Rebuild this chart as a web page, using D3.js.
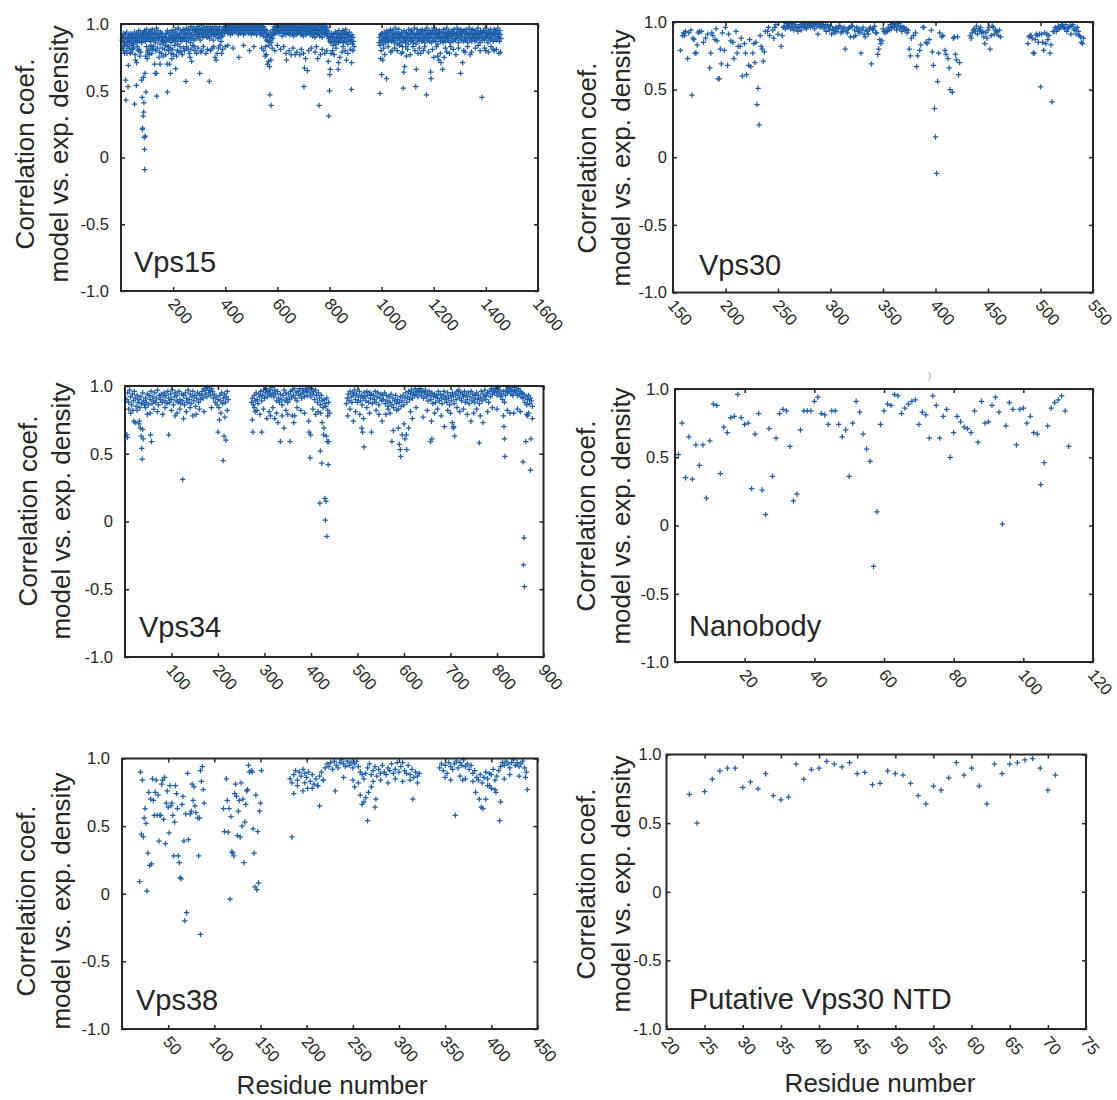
<!DOCTYPE html>
<html>
<head>
<meta charset="utf-8">
<script src="https://cdn.jsdelivr.net/npm/d3@7"></script>
<style>
  body { margin: 0; background: #fff; }
  text { font-family: "Liberation Sans", Arial, Helvetica, sans-serif; }
</style>
</head>
<body>
<div id="chart"></div>
<script>
// panel names, in reading order
const panelNames = ["Vps15", "Vps30", "Vps34", "Nanobody", "Vps38", "Putative Vps30 NTD"];
const yTicks = [-1, -0.5, 0, 0.5, 1];
const yTitle = ["Correlation coef.", "model vs. exp. density"];
const xTitle = "Residue number";

// x ticks per panel
const vps15Ticks = [200, 400, 600, 800, 1000, 1200, 1400, 1600];
const vps30Ticks = [150, 200, 250, 300, 350, 400, 450, 500, 550];
const vps34Ticks = [100, 200, 300, 400, 500, 600, 700, 800, 900];
const nanoTicks = [20, 40, 60, 80, 100, 120];
const vps38Ticks = [50, 100, 150, 200, 250, 300, 350, 400, 450];
const ntdTicks = [20, 25, 30, 35, 40, 45, 50, 55, 60, 65, 70, 75];

// ---- Vps15: dense band (hundredths, every 2nd residue) + fringe + low points ----
const vps15BandA = [ // residues 4..894
88,91,86,93,89,84,92,90,87,94,85,89,92,88,91,86,90,93,87,89,
92,88,85,90,94,87,91,89,93,86,88,92,95,90,87,91,94,89,86,92,
90,93,88,95,91,87,93,96,89,92,90,94,88,91,95,87,93,90,96,89,
92,88,94,90,86,93,97,89,91,95,88,92,90,85,94,91,89,93,87,90,
86,91,88,84,93,90,87,95,89,83,92,88,94,90,86,91,95,88,92,89,
94,90,87,96,91,88,93,85,97,90,92,89,95,87,91,94,88,96,90,93,
89,95,92,87,97,91,94,88,96,90,93,86,98,92,89,95,91,97,88,94,
92,96,89,94,98,91,93,97,90,95,88,96,92,99,94,90,97,93,95,91,
96,93,98,90,94,97,92,95,89,98,94,91,96,93,97,88,95,92,98,94,
91,97,93,95,89,96,92,98,94,90,87,93,96,91,95,97,93,98,94,96,
98,95,97,93,99,96,94,98,92,97,95,99,93,96,98,94,97,95,99,96,
94,98,96,92,99,95,97,93,98,96,94,99,97,92,95,98,96,93,99,97,
95,98,93,97,96,99,94,97,92,98,96,95,99,93,97,94,98,96,92,97,
99,95,97,94,98,92,96,99,93,97,95,91,98,94,96,90,93,88,95,91,
87,92,84,90,88,94,86,91,93,89,96,92,98,95,97,93,99,96,94,98,
97,93,99,95,98,94,97,91,96,99,93,97,95,98,92,96,94,99,97,93,
98,95,92,97,94,99,96,93,98,91,95,97,94,99,92,96,98,93,97,95,
94,98,96,92,97,93,99,95,91,97,94,98,96,92,95,99,93,97,94,96,
98,92,96,94,99,91,95,97,93,98,90,96,94,92,97,95,99,93,96,91,
95,98,93,96,90,97,94,99,92,96,95,98,93,97,91,95,89,93,90,87,
91,86,93,88,90,84,92,89,87,94,85,90,93,88,91,86,95,89,92,87,
93,90,88,95,91,86,94,89,92,96,87,93,90,85,92,88,94,91,87,90,
88,92,85,90,87,83];
const vps15BandB = [ // residues 990..1458
86,90,84,92,88,93,87,91,85,89,94,88,92,86,90,95,89,93,87,91,
94,88,96,91,87,93,89,95,90,86,92,97,88,94,91,85,93,89,96,90,
88,92,86,94,90,83,91,87,95,89,93,86,90,94,88,92,85,96,89,91,
93,87,95,90,88,94,86,92,97,89,91,85,93,96,88,90,94,87,92,95,
89,93,87,96,91,88,94,90,86,95,92,89,97,93,88,91,95,87,90,94,
92,86,95,89,93,97,88,91,94,87,96,90,92,85,93,89,95,91,87,94,
90,88,93,86,96,91,89,94,87,92,97,90,93,88,95,91,86,94,92,89,
95,91,87,93,96,89,92,88,94,90,97,93,86,91,95,89,92,96,88,93,
91,94,87,95,90,88,93,96,89,92,86,94,91,97,88,93,90,95,87,92,
96,89,93,91,87,95,92,88,94,90,97,93,89,92,86,95,91,94,88,93,
90,95,88,93,97,91,89,94,92,86,95,90,93,88,96,92,89,94,91,87,
93,96,89,92,95,88,94,91,97,90,93,87,95,92,89];
const vps15Fringe = [
[6,.82],[12,.84],[20,.80],[26,.83],[38,.79],[42,.84],[48,.82],[54,.77],[62,.83],[70,.81],[98,.83],[102,.79],[114,.84],[120,.81],
[125,.83],[133,.80],[140,.82],[148,.79],[158,.82],[162,.76],[168,.81],[172,.77],[181,.83],[188,.82],[198,.81],[202,.77],[206,.84],
[216,.80],[226,.83],[230,.79],[244,.80],[252,.83],[262,.78],[268,.81],[276,.84],[284,.80],[295,.82],[306,.79],[316,.83],[332,.81],
[344,.80],[356,.83],[374,.82],[386,.78],[400,.83],[410,.84],[430,.82],[470,.84],[510,.83],[540,.82],[548,.80],[580,.82],[590,.80],
[600,.84],[612,.81],[624,.83],[645,.80],[660,.82],[675,.79],[692,.81],[720,.80],[730,.82],[745,.79],[750,.83],[772,.81],[782,.78],
[812,.80],[818,.77],[825,.82],[848,.79],[852,.83],[870,.78],[890,.80],
[998,.80],[1008,.82],[1012,.77],[1025,.83],[1035,.79],[1050,.82],[1060,.80],[1068,.84],[1080,.79],[1092,.83],[1100,.81],[1110,.77],
[1120,.83],[1128,.80],[1145,.82],[1150,.78],[1165,.83],[1180,.79],[1195,.81],[1210,.83],[1215,.76],[1225,.78],[1245,.82],[1250,.79],
[1265,.83],[1275,.81],[1285,.77],[1295,.82],[1315,.80],[1330,.83],[1345,.79],[1360,.82],[1370,.84],[1378,.80],[1395,.82],[1410,.79],
[1420,.83],[1440,.81],[1450,.78]];
const vps15Low = [
[10,.80],[14,.78],[18,.58],[19,.43],[23,.78],[27,.53],[28,.69],[32,.82],[36,.78],[44,.81],[52,.40],[56,.73],[59,.54],[60,.71],
[66,.80],[72,.76],[76,.79],[79,.58],[81,.45],[82,.21],[83,.22],[85,.31],[86,.60],[87,.34],[88,.41],[89,.15],[90,.06],[91,-.09],
[92,.63],[93,.16],[95,.76],[96,.49],[100,.74],[104,.80],[108,.77],[112,.82],[118,.78],[129,.70],[131,.63],[136,.63],[137,.46],
[146,.75],[150,.70],[155,.78],[177,.70],[178,.49],[183,.80],[186,.70],[190,.63],[192,.78],[195,.74],[210,.665],[213,.76],[222,.79],
[235,.77],[240,.82],[249,.57],[258,.81],[265,.75],[271,.72],[280,.83],[290,.78],[302,.63],[310,.80],[326,.78],[339,.57],[350,.82],
[361,.75],[365,.73],[369,.78],[380,.84],[390,.81],[452,.75],[493,.80],[553,.76],[555,.83],[558,.77],[562,.70],[566,.72],[570,.68],
[571,.47],[575,.73],[576,.39],[633,.78],[635,.73],[653,.77],[668,.77],[686,.77],[700,.78],[702,.53],[704,.67],[708,.74],[715,.65],
[755,.74],[760,.39],[765,.77],[790,.80],[795,.72],[797,.31],[800,.50],[801,.62],[803,.66],[806,.78],[833,.66],[835,.71],[840,.75],
[860,.80],[865,.73],[880,.81],[884,.51],[885,.71],
[994,.48],[996,.74],[1000,.62],[1004,.73],[1019,.59],[1040,.80],[1075,.78],[1083,.52],[1085,.64],[1088,.68],[1095,.76],[1131,.53],
[1133,.66],[1140,.78],[1160,.80],[1172,.47],[1188,.64],[1190,.59],[1200,.75],[1220,.73],[1228,.71],[1234,.66],[1240,.75],[1260,.78],
[1303,.63],[1311,.71],[1320,.79],[1340,.77],[1385,.45],[1400,.80],[1428,.81],[1432,.80],[1456,.79]];

// ---- Vps30 ----
const vps30Pts = [
[157,.79],[159,.90],[160,.92],[161,.90],[162,.93],[164,.73],[165,.92],[167,.94],[168,.46],[169,.88],[170,.87],[171,.77],[172,.77],
[173,.83],[174,.92],[175,.93],[177,.93],[179,.85],[181,.88],[183,.91],[185,.66],[186,.77],[187,.92],[188,.90],[190,.87],[191,.95],
[192,.86],[193,.58],[194,.58],[195,.80],[196,.69],[197,.92],[199,.79],[200,.96],[202,.68],[203,.91],[205,.86],[207,.85],[208,.73],
[210,.93],[211,.77],[212,.82],[214,.82],[215,.88],[216,.60],[218,.84],[219,.77],[220,.61],[222,.68],[223,.87],[224,.67],[226,.77],
[227,.84],[228,.70],[229,.85],[230,.39],[231,.51],[232,.24],[233,.90],[234,.82],[235,.80],[236,.71],[237,.78],[238,.93],[240,.93],
[241,.96],[242,.90],[245,.94],[246,.88],[247,.96],[248,.98],[250,.91],[253,.82],[254,.90],[255,.96],
[376,.75],[377,.88],[379,.90],[381,.92],[382,.67],[383,.75],[385,.79],[386,.83],[388,.96],[389,.96],[391,.85],[392,.84],[394,.87],
[396,.94],[397,.78],[398,.68],[399,.36],[400,.15],[401,-.12],[402,.56],[403,.77],[404,.92],[406,.89],[407,.90],[409,.79],[410,.76],
[412,.73],[413,.66],[414,.50],[416,.48],[417,.88],[418,.89],[419,.76],[420,.72],[421,.89],[422,.61],[423,.70]];
const vps30BandA = [ // residues 256..375
97,95,99,96,98,97,95,99,96,94,98,97,95,93,96,98,94,97,99,96,
98,95,97,99,98,96,99,97,98,95,99,97,91,98,96,99,97,98,95,97,
93,98,96,94,97,91,95,94,92,96,93,95,97,97,92,95,93,96,80,94,
92,95,96,89,97,97,89,94,90,96,93,95,92,77,94,96,91,89,94,93,
91,95,96,69,94,95,97,92,92,76,80,87,84,86,95,93,92,94,93,96,
94,98,95,97,99,96,98,94,97,99,95,97,93,96,96,94,95,92,94,80];
const vps30BandB = [ // residues 433..462
90,88,92,94,95,93,97,91,95,94,96,92,93,89,84,92,88,94,96,80,90,97,96,91,94,93,93,90,94,89];
const vps30BandC = [ // residues 488..541
84,89,90,90,88,77,77,87,91,90,85,91,52,91,85,79,92,84,91,87,90,77,83,41,93,93,96,93,95,97,
95,96,98,98,96,95,98,93,95,96,97,91,97,98,94,95,91,96,93,90,89,85,84,88];

// ---- Vps34 ----
const vps34BandA = [ // residues 4..222
90,95,88,97,92,86,94,89,96,91,85,93,88,90,84,92,87,95,89,86,
91,88,94,86,93,90,96,87,92,89,95,88,91,97,86,93,90,94,88,92,
95,89,93,87,96,91,88,94,90,97,86,92,95,89,93,88,96,90,87,94,
89,93,86,95,91,88,97,90,94,87,92,96,89,93,85,91,95,88,94,90,
93,96,91,98,94,97,92,99,95,97,93,98,96,91,94,88,92,86,90,84,
93,89,95,87,91,94,88,92,96,90];
const vps34BandB = [ // residues 272..440
88,91,86,93,89,95,90,87,94,92,96,89,93,97,91,95,98,92,96,94,
97,93,99,95,92,97,94,89,96,91,88,94,90,86,93,97,89,95,91,88,
94,90,96,92,97,93,98,91,95,89,96,93,98,94,91,97,95,92,98,96,
93,97,99,95,92,98,94,96,90,97,93,88,95,91,86,93,89,84,90,87,
85,91,82,88,80];
const vps34BandC = [ // residues 476..876
87,91,94,89,96,92,88,95,93,97,90,94,88,92,96,89,93,86,91,95,
92,89,96,93,88,95,91,94,87,93,90,96,88,92,95,86,91,94,89,93,
90,95,87,93,89,85,92,88,94,86,91,84,89,93,87,90,83,88,92,85,
89,93,86,91,95,88,92,96,90,94,97,91,95,93,98,94,96,92,97,95,
98,93,96,91,95,97,92,94,89,96,93,90,95,87,92,94,88,93,91,96,
89,94,91,87,93,96,90,92,88,95,91,86,93,89,95,92,87,94,90,96,
93,97,91,95,89,94,92,96,88,93,90,95,87,92,96,89,94,91,88,93,
95,90,93,87,91,96,89,94,92,97,90,93,95,88,96,92,98,94,97,95,
98,96,93,99,95,97,92,94,90,96,88,93,97,95,99,96,98,94,97,93,
96,99,95,97,93,98,94,96,92,95,91,94,88,92,86,90,93,87,91,89,
85];
const vps34Fringe = [
[8,.83],[12,.80],[26,.82],[44,.84],[48,.79],[62,.83],[70,.81],[86,.84],[100,.82],[112,.80],[118,.83],[132,.81],[140,.84],[146,.78],
[160,.83],[170,.81],[186,.84],[206,.80],[220,.82],
[278,.84],[284,.82],[290,.79],[298,.83],[310,.81],[318,.84],[326,.80],[346,.82],[350,.79],[370,.84],[378,.82],[386,.80],[404,.83],
[410,.79],
[484,.83],[496,.81],[520,.84],[526,.80],[540,.82],[546,.79],[566,.83],[570,.80],[584,.82],[614,.81],[626,.84],[650,.82],[666,.80],
[672,.83],[680,.78],[694,.82],[700,.80],[714,.84],[720,.81],[728,.83],[750,.80],[756,.83],[780,.81],[790,.84],[800,.83],[822,.82],
[828,.80],[844,.83],[850,.81],[868,.80]];
const vps34Low = [
[4,.64],[5,.62],[17,.82],[19,.74],[22,.73],[30,.72],[31,.74],[33,.69],[35,.63],[36,.54],[37,.46],[38,.68],[39,.61],[54,.80],
[55,.64],[57,.59],[81,.79],[94,.64],[108,.78],[124,.31],[126,.76],[153,.79],[200,.66],[203,.75],[211,.45],[213,.63],[215,.77],
[217,.60],[274,.75],[275,.66],[280,.81],[294,.66],[305,.76],[313,.78],[322,.76],[329,.73],[334,.59],[338,.78],[342,.69],[355,.59],
[360,.78],[363,.73],[365,.78],[395,.74],[396,.66],[398,.47],[399,.64],[415,.81],[419,.135],[420,.52],[421,.80],[423,.43],[424,.73],
[427,.64],[428,.69],[430,.17],[431,.01],[432,.15],[433,.63],[434,-.11],[435,.59],[436,.78],[437,.42],[438,.59],
[479,.78],[491,.74],[505,.79],[509,.69],[511,.66],[513,.76],[514,.55],[530,.66],[553,.74],[561,.79],[574,.59],[577,.67],[588,.69],
[590,.57],[592,.53],[593,.48],[596,.64],[600,.72],[602,.61],[605,.64],[606,.53],[610,.69],[618,.76],[641,.77],[657,.59],[659,.74],
[660,.61],[687,.70],[704,.73],[706,.69],[707,.70],[709,.63],[736,.79],[744,.74],[762,.58],[764,.78],[770,.73],[814,.78],[815,.70],
[816,.61],[817,.48],[836,.80],[856,.44],[857,-.32],[858,-.12],[859,-.48],[862,.59],[864,.79],[866,.78],[872,.38],[873,.61],[876,.76]];

// ---- Nanobody, residues 1..113 ----
const nanoVals = [
52,75,35,65,34,59,44,59,20,62, 89,88,38,72,68,79,80,96,79,74,
75,27,67,82,26,8,71,36,64,82, 85,84,58,18,23,70,84,84,84,91,
94,82,81,74,84,84,74,65,70,36, 75,91,83,67,56,47,-30,10,74,84,
89,88,96,95,82,86,89,91,92,74, 83,81,64,95,88,64,80,85,50,68,
80,76,72,71,68,84,61,91,75,76, 88,94,83,1,73,90,85,59,85,86,
75,80,68,67,30,46,73,86,90,92, 95,84,58];

// ---- Vps38 ----
const vps38Pts = [
[19,.09],[20,.90],[21,.44],[22,.84],[23,.42],[24,.56],[25,.63],[26,.52],[27,.02],[28,.30],[29,.75],[30,.21],[31,.70],[32,.22],
[33,.85],[34,.69],[35,.58],[36,.75],[37,.84],[38,.58],[39,.73],[40,.39],[41,.58],[42,.58],[43,.81],[44,.84],[45,.55],[46,.86],
[47,.37],[48,.67],[49,.76],[50,.64],[51,.45],[52,.80],[53,.65],[54,.67],[55,.58],[56,.28],[57,.53],[58,.80],[59,.74],[60,.63],
[61,.28],[62,.23],[63,.12],[64,.11],[65,.66],[66,.72],[67,.39],[68,-.20],[69,.59],[70,-.14],[71,.89],[72,.40],[74,.59],[75,.61],
[76,.81],[77,.69],[78,.79],[79,.65],[80,.60],[82,.56],[83,.28],[84,.56],[85,.91],[85,-.30],[86,.83],[87,.94],[88,.77],[89,.67],
[110,.63],[111,.46],[113,.85],[114,.69],[115,.455],[116,.63],[117,-.04],[118,.57],[119,.31],[120,.30],[121,.28],[122,.74],[123,.81],
[124,.72],[125,.43],[126,.61],[127,.69],[128,.42],[129,.82],[130,.50],[131,.70],[132,.23],[133,.53],[134,.66],[135,.76],[136,.77],
[137,.95],[138,.90],[140,.91],[141,.90],[142,.48],[143,.30],[144,.05],[145,.73],[146,.03],[147,.46],[148,.08],[149,.61],[150,.67],
[151,.91],
[184,.42],[186,.74],[196,.76],[201,.78],[214,.65],[231,.76],[252,.79],[258,.73],[260,.66],[262,.68],[264,.71],[266,.54],[267,.75],
[270,.79],[274,.64],[275,.70],[315,.70],[361,.58],[369,.84],[383,.75],[387,.70],[389,.64],[391,.63],[394,.70],[398,.89],[404,.77],
[405,.75],[409,.54],[410,.68],[437,.86],[439,.77],
[190,.80],[198,.82],[206,.78],[212,.80],[218,.84],[240,.86],[250,.84],[256,.82],[272,.83],[280,.84],[288,.82],[296,.85],[304,.83],
[312,.84],[320,.82],[350,.86],[356,.84],[366,.87],[372,.85],[380,.83],[396,.80],[400,.78],[414,.85],[420,.88],[430,.87]];
const vps38BandA = [ // residues 182..322
85,82,88,91,84,90,87,92,89,86,90,83,88,81,85,80,87,90,84,93,
96,94,97,92,98,95,93,97,99,96,94,98,95,97,93,96,98,94,90,88,
85,89,93,96,88,91,94,87,92,89,95,90,88,93,91,96,89,92,97,90,
94,97,91,89,95,88,92,86,90,87,89];
const vps38BandB = [ // residues 344..438
93,96,91,95,89,97,94,92,96,98,93,97,95,99,94,96,92,95,89,91,
86,84,88,82,86,90,85,80,88,92,84,87,91,94,97,95,98,96,93,97,
99,95,97,94,96,98,93,90];

// ---- Putative Vps30 NTD, residues 23..71 ----
const ntdVals = [
71,50,73,82,88,90,90,76,80,75, 86,70,67,69,93,82,89,90,95,93,
91,94,86,87,78,79,88,86,85,79, 70,64,77,74,83,94,85,90,77,64,
93,86,93,94,96,97,90,74,85];

// build [residue, value] points
const run = (start, step, vals) => vals.map((v, i) => [start + i * step, v / 100]);

const series = [
  run(4, 2, vps15BandA).concat(run(990, 2, vps15BandB), vps15Fringe, vps15Low),
  vps30Pts.concat(run(256, 1, vps30BandA), run(433, 1, vps30BandB), run(488, 1, vps30BandC)),
  run(4, 2, vps34BandA).concat(run(272, 2, vps34BandB), run(476, 2, vps34BandC), vps34Fringe, vps34Low),
  run(1, 1, nanoVals),
  vps38Pts.concat(run(182, 2, vps38BandA), run(344, 2, vps38BandB)),
  run(23, 1, ntdVals)
];
const domains = [[0, 1600], [150, 550], [0, 900], [0, 120], [0, 450], [20, 75]];
const xTickSets = [vps15Ticks, vps30Ticks, vps34Ticks, nanoTicks, vps38Ticks, ntdTicks];

// where each panel sits on the page
const layout = [
  {x: [121, 538],    y: [291, 24],     lab: [134, 272],  yt: [25, 59, 154],   gap: 12},
  {x: [673, 1093],   y: [292.5, 22],   lab: [699, 275],  yt: [587, 621, 158], gap: 6},
  {x: [125, 543.5],  y: [657, 386],    lab: [139, 637],  yt: [28, 61, 511],   gap: 12},
  {x: [675, 1093],   y: [662, 389],    lab: [689, 636],  yt: [586, 621, 516], gap: 6},
  {x: [122, 537.5],  y: [1029, 758.5], lab: [136, 1010], yt: [26, 61, 901],   gap: 12},
  {x: [666.5, 1086], y: [1029, 754.5], lab: [689, 1009], yt: [586, 621, 884], gap: 5}
];

const ink = "#262626";
const blue = "#1d5fab";
const plus = "M-2.7,0H2.7M0,-2.7V2.7";
const fmtY = d => d === 0 ? "0" : d.toFixed(1);

const svg = d3.select("#chart").append("svg")
  .attr("width", 1117).attr("height", 1100)
  .style("display", "block");

series.forEach((pts, i) => {
  const L = layout[i];
  const x = d3.scaleLinear().domain(domains[i]).range(L.x);
  const y = d3.scaleLinear().domain([-1, 1]).range(L.y);
  const g = svg.append("g");

  g.append("g").selectAll("path")
    .data(pts)
    .join("path")
    .attr("d", plus)
    .attr("transform", d => `translate(${x(d[0])},${y(d[1])})`)
    .attr("fill", "none")
    .attr("stroke", blue)
    .attr("stroke-width", 1.25);

  const style = sel => {
    sel.attr("color", ink).attr("font-size", 16.5)
      .attr("font-family", '"Liberation Sans", Arial, sans-serif');
    sel.select(".domain").remove();
    sel.selectAll("line").attr("stroke-width", 1.5);
  };

  g.append("g").attr("transform", `translate(${L.x[0]},0)`)
    .call(d3.axisLeft(y).tickValues(yTicks).tickSize(-4).tickPadding(L.gap).tickFormat(fmtY))
    .call(style);
  g.append("g").attr("transform", `translate(${L.x[1]},0)`)
    .call(d3.axisRight(y).tickValues(yTicks).tickSize(-4).tickFormat(""))
    .call(style);
  g.append("g").attr("transform", `translate(0,${L.y[1]})`)
    .call(d3.axisTop(x).tickValues(xTickSets[i]).tickSize(-4).tickFormat(""))
    .call(style);
  g.append("g").attr("transform", `translate(0,${L.y[0]})`)
    .call(d3.axisBottom(x).tickValues(xTickSets[i]).tickSize(-4).tickFormat(d3.format("d")))
    .call(style)
    .call(a => a.selectAll("text")
      .attr("x", 0).attr("y", 0).attr("dy", "0.35em")
      .attr("text-anchor", "start")
      .attr("transform", "translate(-2,9.5) rotate(50)"));

  // frame
  g.append("rect")
    .attr("x", L.x[0]).attr("y", L.y[1])
    .attr("width", L.x[1] - L.x[0]).attr("height", L.y[0] - L.y[1])
    .attr("fill", "none").attr("stroke", ink).attr("stroke-width", 2);

  // panel name
  g.append("text")
    .attr("x", L.lab[0]).attr("y", L.lab[1])
    .attr("font-size", 29).attr("fill", ink)
    .text(panelNames[i]);

  // y title, two lines
  yTitle.forEach((t, k) => {
    g.append("text")
      .attr("transform", `translate(${L.yt[k]},${L.yt[2]}) rotate(-90)`)
      .attr("text-anchor", "middle")
      .attr("dominant-baseline", "central")
      .attr("font-size", 26).attr("fill", ink)
      .text(t);
  });
});

// x titles under the bottom row
[[332, 1094], [880, 1092]].forEach(p => {
  svg.append("text")
    .attr("x", p[0]).attr("y", p[1])
    .attr("text-anchor", "middle")
    .attr("font-size", 26).attr("fill", ink)
    .text(xTitle);
});

// stray mark above the Nanobody panel
svg.append("text").attr("x", 928).attr("y", 379)
  .attr("font-size", 9).attr("fill", "#999").text(")");
</script>
</body>
</html>
